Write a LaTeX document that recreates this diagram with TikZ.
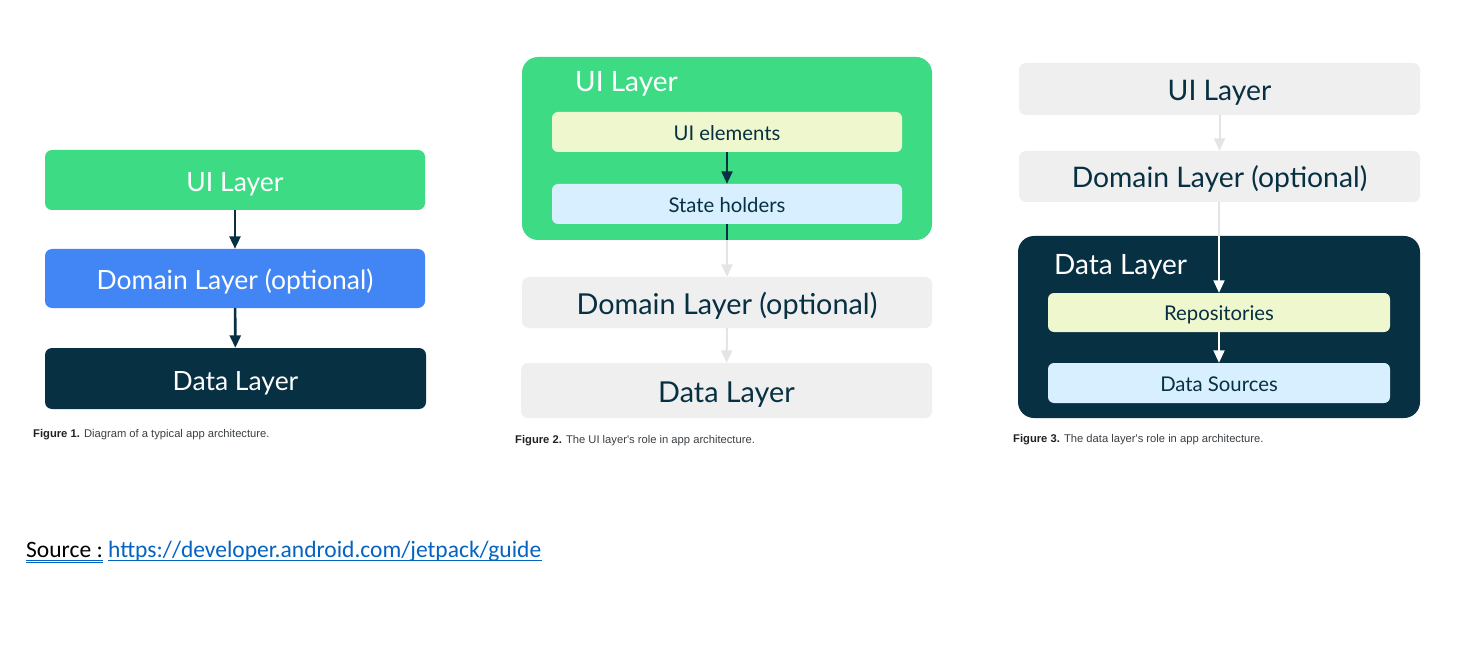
\documentclass[tikz,border=0pt]{standalone}
\usepackage{fontspec}
\setmainfont{Lato}
\newfontfamily\capfont{Liberation Sans}
\newfontfamily\srcfont{Carlito}
\usetikzlibrary{arrows.meta,calc}
\definecolor{agreen}{HTML}{3DDC84}
\definecolor{ablue}{HTML}{4285F4}
\definecolor{adark}{HTML}{073042}
\definecolor{agray}{HTML}{EFEFEF}
\definecolor{alinegray}{HTML}{E4E4E4}
\definecolor{ayellow}{HTML}{EFF7CF}
\definecolor{alblue}{HTML}{D7EFFE}
\definecolor{capdark}{HTML}{202124}
\definecolor{capgray}{HTML}{3C4043}
\definecolor{linkblue}{HTML}{0563C1}
\tikzset{
  bigbox/.style={rounded corners=7pt, inner sep=0pt, font=\fontsize{28.3}{30}\selectfont, text height=23pt, text depth=0pt},
  figonebox/.style={bigbox, font=\fontsize{26.5}{29}\selectfont, text height=23pt},
  smallbox/.style={rounded corners=6pt, inner sep=0pt, font=\fontsize{20.3}{22}\selectfont, text height=16.5pt, text depth=0pt, text=adark},
  outerbox/.style={rounded corners=16pt, inner sep=0pt},
  layerlabel/.style={anchor=base west, inner sep=0pt, font=\fontsize{28}{30}\selectfont},
  darkarr/.style={draw=adark, line width=2.2pt, -{Triangle[width=11pt,length=12.5pt]}},
  darkline/.style={draw=adark, line width=2.2pt},
  grayarr/.style={draw=alinegray, line width=2pt, -{Triangle[width=11pt,length=12.5pt]}},
  grayline/.style={draw=alinegray, line width=2pt},
  whitearr/.style={draw=white, line width=2pt, -{Triangle[width=11pt,length=12.5pt]}},
  capstyle/.style={anchor=base west, inner sep=0pt, font=\capfont\fontsize{11.2}{13}\selectfont, text=capgray},
  srcstyle/.style={anchor=base west, inner sep=0pt, font=\srcfont\fontsize{23.5}{26}\selectfont},
}
\begin{document}
\begin{tikzpicture}[x=1pt,y=-1pt]
\useasboundingbox[fill=white] (0,0) rectangle (1477,668);

% ---------- Figure 1 ----------
\node[figonebox, fill=agreen, text=white, minimum width=380pt, minimum height=60pt] (ui1) at (235,180) {UI Layer};
\node[figonebox, fill=ablue, text=white, minimum width=380pt, minimum height=59pt] (dom1) at (235,278.5) {Domain Layer (optional)};
\node[figonebox, fill=adark, text=white, minimum width=381pt, minimum height=61pt] (data1) at (235.5,378.5) {Data Layer};
\draw[darkarr, line width=2.6pt] (ui1) -- (dom1);
\draw[darkarr, line width=2.6pt] (dom1) -- (data1);
\node[capstyle] (cap1) at (33,437) {{\color{capdark}\textbf{Figure 1.}} Diagram of a typical app architecture.};

% ---------- Figure 2 ----------
\node[outerbox, fill=agreen, minimum width=410pt, minimum height=183pt] (uiout2) at (727,148.5) {};
\node[layerlabel, text=white] (uilab2) at (575,92) {UI Layer};
\node[smallbox, fill=ayellow, minimum width=350pt, minimum height=40pt] (uiel2) at (727,132) {UI elements};
\node[smallbox, fill=alblue, minimum width=350pt, minimum height=40pt] (state2) at (727,204) {State holders};
\node[bigbox, fill=agray, text=adark, font=\fontsize{28.8}{30}\selectfont, minimum width=410pt, minimum height=51pt] (dom2) at (727,302.5) {Domain Layer (optional)};
\node[bigbox, fill=agray, text=adark, font=\fontsize{28.8}{30}\selectfont, minimum width=411pt, minimum height=55pt] (data2) at (726.5,390.5) {Data Layer};
\coordinate (exit2) at (state2.south |- uiout2.south);
\draw[darkarr] (uiel2) -- (state2);
\draw[darkline] (state2.south) -- (exit2);
\draw[grayarr] (exit2) -- (dom2.north);
\draw[grayarr] (dom2) -- (data2);
\node[capstyle] (cap2) at (515,443) {{\color{capdark}\textbf{Figure 2.}} The UI layer's role in app architecture.};

% ---------- Figure 3 ----------
\node[bigbox, fill=agray, text=adark, minimum width=401pt, minimum height=52pt] (ui3) at (1219.5,89) {UI Layer};
\node[bigbox, fill=agray, text=adark, minimum width=401pt, minimum height=51pt] (dom3) at (1219.5,176.5) {Domain Layer (optional)};
\node[outerbox, fill=adark, minimum width=402pt, minimum height=182pt] (dataout3) at (1219,327) {};
\node[layerlabel, text=white] (datalab3) at (1054,274) {Data Layer};
\node[smallbox, fill=ayellow, minimum width=342pt, minimum height=39pt] (repo3) at (1219,312.5) {Repositories};
\node[smallbox, fill=alblue, minimum width=342pt, minimum height=40pt] (src3) at (1219,383) {Data Sources};
\coordinate (entry3) at (repo3.north |- dataout3.north);
\draw[grayarr] (ui3) -- (dom3);
\draw[grayline] (repo3.north |- dom3.south) -- (entry3);
\draw[whitearr] (entry3) -- (repo3.north);
\draw[whitearr] (repo3) -- (src3);
\node[capstyle] (cap3) at (1013,442) {{\color{capdark}\textbf{Figure 3.}} The data layer's role in app architecture.};

% ---------- Source ----------
\node[srcstyle, text=black] (srclab) at (26,557) {Source :};
\node[srcstyle, text=linkblue] (srcurl) at (108,557) {https://developer.android.com/jetpack/guide};
\draw[linkblue, line width=0.8pt] ($(srclab.base west)+(0,3)$) -- ($(srclab.base east)+(0,3)$);
\draw[linkblue, line width=0.8pt] ($(srclab.base west)+(0,5.5)$) -- ($(srclab.base east)+(0,5.5)$);
\draw[linkblue, line width=1.2pt] ($(srcurl.base west)+(0,3.5)$) -- ($(srcurl.base east)+(0,3.5)$);
\end{tikzpicture}
\end{document}
